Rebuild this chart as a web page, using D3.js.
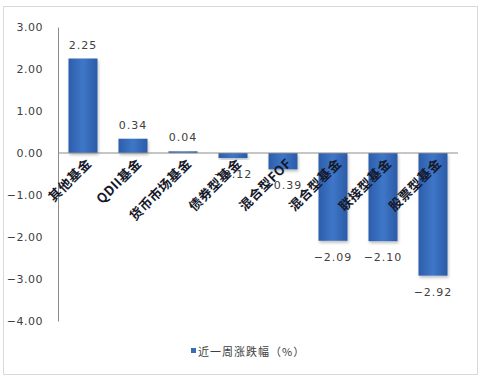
<!DOCTYPE html>
<html>
<head>
<meta charset="utf-8">
<script src="https://cdn.jsdelivr.net/npm/d3@7"></script>
<style>
body { margin: 0; background: #ffffff; }
</style>
</head>
<body>
<script>
var categories = ["其他基金", "QDII基金", "货币市场基金", "债券型基金", "混合型FOF", "混合型基金", "联接型基金", "股票型基金"];
var values = [2.25, 0.34, 0.04, -0.12, -0.39, -2.09, -2.10, -2.92];
var yTicks = [3, 2, 1, 0, -1, -2, -3, -4];
var seriesName = "近一周涨跌幅（%）";

var svg = d3.select("body")
	.append("svg")
	.attr("width", 482)
	.attr("height", 380);

var defs = svg.append("defs");
var grad = defs.append("linearGradient")
	.attr("id", "barGrad")
	.attr("x1", "0").attr("y1", "0").attr("x2", "1").attr("y2", "0");
grad.append("stop").attr("offset", "0%").attr("stop-color", "#2c5eab");
grad.append("stop").attr("offset", "50%").attr("stop-color", "#3f77c8");
grad.append("stop").attr("offset", "100%").attr("stop-color", "#2b5ba6");
var shadow = defs.append("filter").attr("id", "shadow")
	.attr("x", "-20%").attr("y", "-20%").attr("width", "150%").attr("height", "150%");
shadow.append("feDropShadow")
	.attr("dx", 1).attr("dy", 2).attr("stdDeviation", 1.5)
	.attr("flood-color", "#000").attr("flood-opacity", 0.25);

// frame
svg.append("rect")
	.attr("x", 3.5).attr("y", 6.5)
	.attr("width", 474).attr("height", 368)
	.attr("fill", "none")
	.attr("stroke", "#d9d9d9");

var x = d3.scaleBand()
	.domain(categories)
	.range([58, 458])
	.paddingInner(0.42)
	.paddingOuter(0.21);

var y = d3.scaleLinear()
	.domain([-4, 3])
	.range([321, 27]);

// y axis
var yAxis = d3.axisLeft(y)
	.tickValues(yTicks)
	.tickFormat(d3.format(".2f"))
	.tickSize(0)
	.tickPadding(15);
var yg = svg.append("g")
	.attr("transform", "translate(58,0)")
	.call(yAxis);
yg.select(".domain").attr("stroke", "#8c8c8c");
yg.selectAll("text")
	.attr("fill", "#404040")
	.style("font-family", "'DejaVu Sans', sans-serif")
	.style("font-size", "11px")
	.style("letter-spacing", "0.5px");

// bars
svg.append("g").selectAll("rect")
	.data(values)
	.join("rect")
	.attr("x", function (d, i) { return x(categories[i]); })
	.attr("y", function (d) { return y(Math.max(0, d)); })
	.attr("width", x.bandwidth())
	.attr("height", function (d) { return Math.max(1, Math.abs(y(d) - y(0))); })
	.attr("fill", "url(#barGrad)")
	.attr("filter", "url(#shadow)");

// zero line
svg.append("line")
	.attr("x1", 58).attr("x2", 458)
	.attr("y1", y(0)).attr("y2", y(0))
	.attr("stroke", "#8c8c8c");

// value labels
svg.append("g").selectAll("text")
	.data(values)
	.join("text")
	.attr("x", function (d, i) { return x(categories[i]) + x.bandwidth() / 2; })
	.attr("y", function (d) { return d >= 0 ? y(d) - 10 : y(d) + 20; })
	.attr("text-anchor", "middle")
	.attr("fill", "#404040")
	.style("font-family", "'DejaVu Sans', sans-serif")
	.style("font-size", "11px")
	.style("letter-spacing", "1px")
	.text(function (d) { return d3.format(".2f")(d); });

// category labels
svg.append("g").selectAll("text")
	.data(categories)
	.join("text")
	.attr("transform", function (d) {
		return "translate(" + (x(d) + x.bandwidth() / 2 + 6) + "," + (y(0) + 8) + ") rotate(-45)";
	})
	.attr("text-anchor", "end")
	.attr("dy", "0.35em")
	.attr("fill", "#15182a")
	.style("font-family", "'Noto Sans CJK SC', sans-serif")
	.style("font-size", "13px")
	.style("font-weight", "bold")
	.style("letter-spacing", "0.5px")
	.text(function (d) { return d; });

// legend
var lg = svg.append("g").attr("transform", "translate(191,352)");
lg.append("rect")
	.attr("x", 0).attr("y", -4)
	.attr("width", 5).attr("height", 5)
	.attr("fill", "#3a6db8");
lg.append("text")
	.attr("x", 7).attr("y", 0)
	.attr("dy", "0.35em")
	.attr("fill", "#404040")
	.style("font-family", "'Noto Sans CJK SC', sans-serif")
	.style("font-size", "11px")
	.style("letter-spacing", "1px")
	.text(seriesName);
</script>
</body>
</html>
